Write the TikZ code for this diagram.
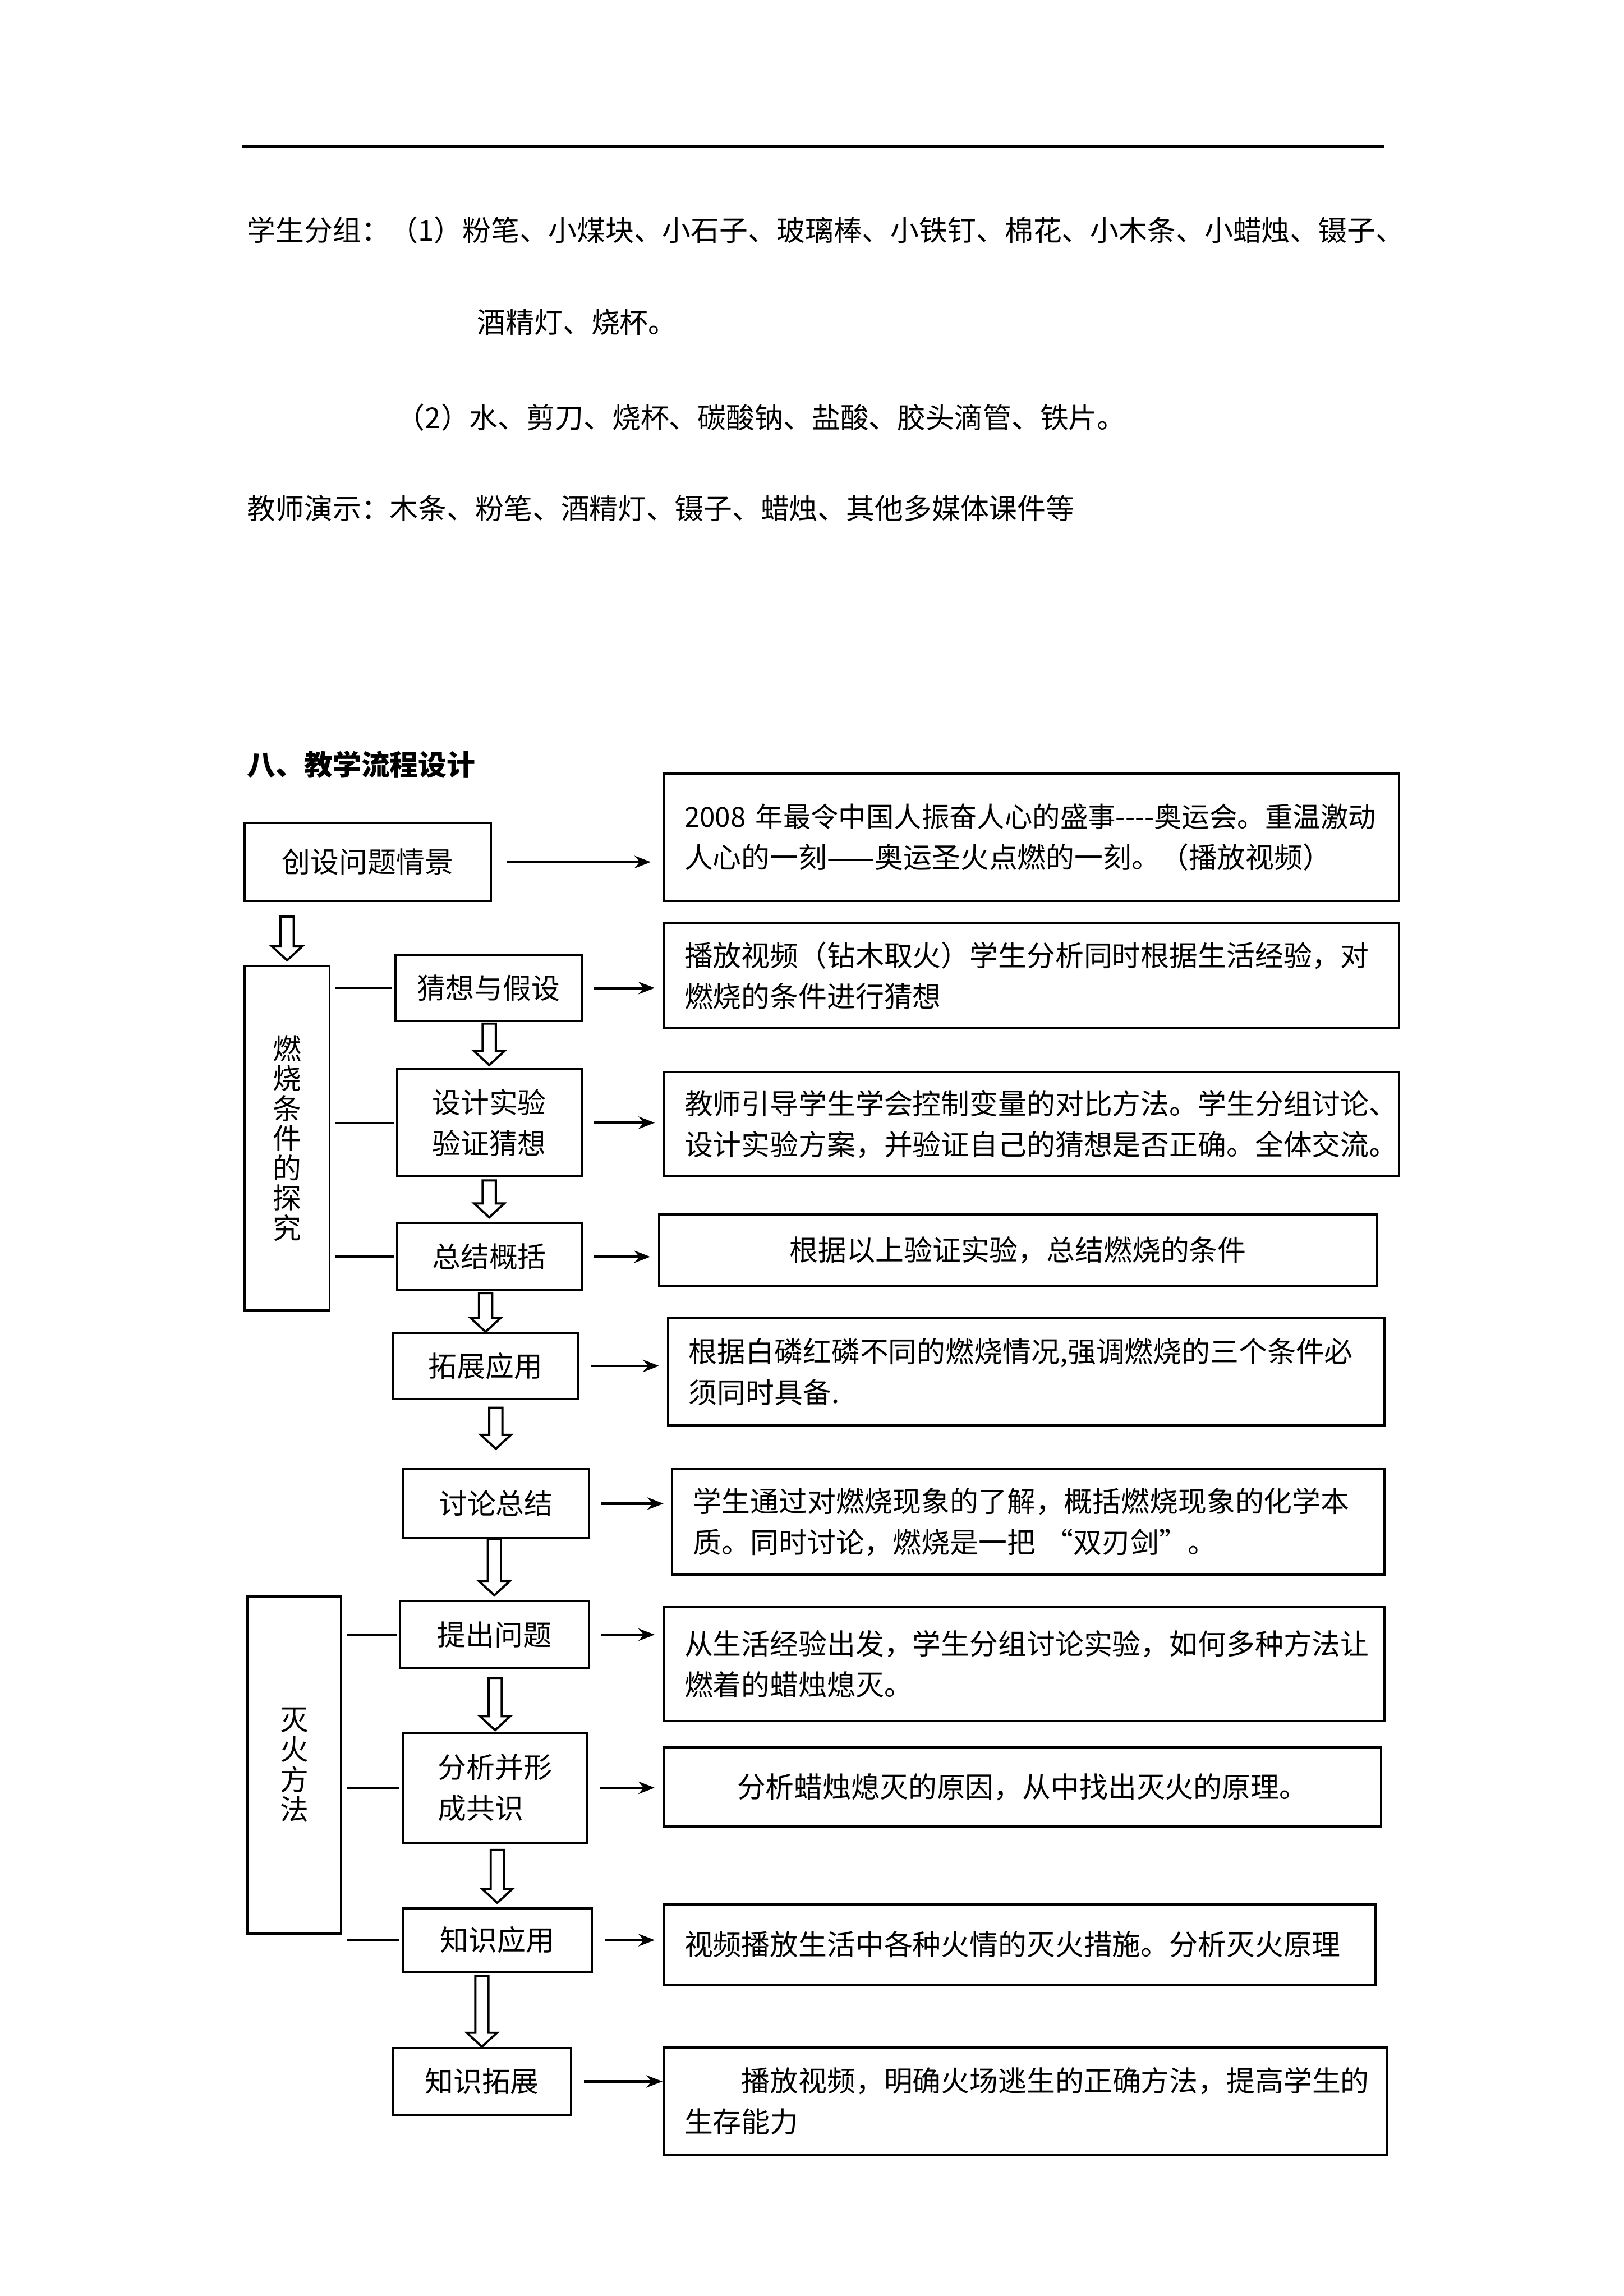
\documentclass[tikz,border=0pt]{standalone}
\usepackage{fontspec}
\setmainfont{Noto Sans CJK SC}
\usetikzlibrary{arrows.meta,calc}
\tikzset{
	plain/.style={anchor=west, inner sep=0pt},
	stepbox/.style={draw, align=center, inner sep=0pt},
	sidebox/.style={draw, align=center, inner sep=0pt, font=\fontsize{10.5pt}{11pt}\selectfont},
	infobox/.style={draw, align=left, inner xsep=2.7mm, inner ysep=0pt},
	arr/.style={-{Stealth[length=2.1mm,width=1.6mm]}, line width=1pt, shorten <=1.5mm, shorten >=1mm},
	link/.style={shorten <=0.6mm, shorten >=0.3mm}
}
\newcommand{\hollowarrow}[2]{\draw let \p1=(#1), \p2=(#2) in
	(\x2-0.85mm,\y1) -- (\x2+0.85mm,\y1) -- (\x2+0.85mm,\y2+1.8mm) -- (\x2+1.95mm,\y2+1.8mm)
	-- (\x2,\y2) -- (\x2-1.95mm,\y2+1.8mm) -- (\x2-0.85mm,\y2+1.8mm) -- cycle;}

\begin{document}
\begin{tikzpicture}[x=0.18947mm, y=-0.18947mm, line width=0.8pt,
		every node/.style={font=\fontsize{10.5pt}{15.1pt}\selectfont}]
	\useasboundingbox (0,0) rectangle (1108.4,1567.5);
	\draw[line width=1pt] (165,100) -- (945,100);
	\node[plain] (grp1) at (168,157) {学生分组：（1）粉笔、小煤块、小石子、玻璃棒、小铁钉、棉花、小木条、小蜡烛、镊子、};
	\node[plain] (grp1b) at (325,220) {酒精灯、烧杯。};
	\node[plain] (grp2) at (270,285) {（2）水、剪刀、烧杯、碳酸钠、盐酸、胶头滴管、铁片。};
	\node[plain] (demo) at (168,347) {教师演示：木条、粉笔、酒精灯、镊子、蜡烛、其他多媒体课件等};
	\node[plain, font=\fontsize{10.5pt}{15.1pt}\selectfont\bfseries] (title) at (168,522) {八、教学流程设计};

	\node[stepbox, minimum width=31.83mm, minimum height=10.04mm] (intro) at (251,588.5) {创设问题情景};
	\node[stepbox, minimum width=24.06mm, minimum height=8.53mm] (guess) at (333.5,674.5) {猜想与假设};
	\node[stepbox, minimum width=23.87mm, minimum height=13.84mm] (design) at (334,766.5) {设计实验\\验证猜想};
	\node[stepbox, minimum width=23.87mm, minimum height=8.71mm] (sum) at (334,858) {总结概括};
	\node[stepbox, minimum width=24.06mm, minimum height=8.53mm] (extend) at (331.5,932.5) {拓展应用};
	\node[stepbox, minimum width=24.06mm, minimum height=8.90mm] (discuss) at (338.5,1026.5) {讨论总结};
	\node[stepbox, minimum width=24.45mm, minimum height=8.71mm] (ask) at (337.5,1116) {提出问题};
	\node[stepbox, minimum width=23.87mm, minimum height=14.21mm, align=left] (analyse) at (338,1220.5) {分析并形\\成共识};
	\node[stepbox, minimum width=24.45mm, minimum height=8.15mm] (apply) at (339.5,1324.5) {知识应用};
	\node[stepbox, minimum width=23.12mm, minimum height=8.71mm] (widen) at (329,1421) {知识拓展};

	\node[sidebox, minimum width=10.99mm, minimum height=44.52mm] (burn) at (196,777) {燃\\烧\\条\\件\\的\\探\\究};
	\node[sidebox, minimum width=12.13mm, minimum height=43.58mm] (quench) at (201,1205) {灭\\火\\方\\法};

	\node[infobox, minimum height=16.49mm, text width=89.71mm] (olymp) at (704,571.5) {\mbox{\fontsize{10.2pt}{15.1pt}\selectfont 2008 年最令中国人振奋人心的盛事-\kern0pt-\kern0pt-\kern0pt-奥运会。重温激动}\\人心的一刻——奥运圣火点燃的一刻。（播放视频）};
	\node[infobox, minimum height=13.64mm, text width=89.71mm] (video) at (704,666) {播放视频（钻木取火）学生分析同时根据生活经验，对\\燃烧的条件进行猜想};
	\node[infobox, minimum height=13.45mm, text width=89.71mm] (method) at (704,767.5) {教师引导学生学会控制变量的对比方法。学生分组讨论、\\设计实验方案，并验证自己的猜想是否正确。全体交流。};
	\node[infobox, minimum height=9.28mm, text width=87.44mm, align=center] (cond) at (695,853.5) {根据以上验证实验，总结燃烧的条件};
	\node[infobox, minimum height=13.84mm, text width=87.25mm] (phos) at (700.5,936.5) {根据白磷红磷不同的燃烧情况,强调燃烧的三个条件必\\须同时具备.};
	\node[infobox, minimum height=13.64mm, text width=86.68mm] (nature) at (702,1039) {学生通过对燃烧现象的了解，概括燃烧现象的化学本\\质。同时讨论，燃烧是一把 “双刃剑”。};
	\node[infobox, minimum height=14.78mm, text width=87.82mm] (candle) at (699,1136) {从生活经验出发，学生分组讨论实验，如何多种方法让\\燃着的蜡烛熄灭。};
	\node[infobox, minimum height=10.23mm, text width=87.44mm, align=center] (reason) at (698,1220) {分析蜡烛熄灭的原因，从中找出灭火的原理。};
	\node[infobox, minimum height=10.42mm, text width=86.68mm] (measure) at (696,1327.5) {视频播放生活中各种火情的灭火措施。分析灭火原理};
	\node[infobox, minimum height=13.84mm, text width=88.19mm] (escape) at (700,1434.5) {\hspace*{2em}播放视频，明确火场逃生的正确方法，提高学生的\\生存能力};

	\path[arr]
	(intro.east) edge[shorten <=1.9mm, shorten >=1.5mm] (intro.east -| olymp.west)
	(guess.east) edge (guess.east -| video.west)
	(design.east) edge (design.east -| method.west)
	(sum.east) edge (sum.east -| cond.west)
	(extend.east) edge (extend.east -| phos.west)
	(discuss.east) edge (discuss.east -| nature.west)
	(ask.east) edge (ask.east -| candle.west)
	(analyse.east) edge (analyse.east -| reason.west)
	(apply.east) edge (apply.east -| measure.west)
	(widen.east) edge[shorten >=0mm] (widen.east -| escape.west)
	;
	\path[link]
	(burn.east |- guess.west) edge (guess.west)
	(burn.east |- design.west) edge (design.west)
	(burn.east |- sum.west) edge (sum.west)
	(quench.east |- ask.west) edge (ask.west)
	(quench.east |- analyse.west) edge (analyse.west)
	(quench.east |- apply.west) edge (apply.west)
	;
	\hollowarrow{[yshift=-1.9mm]intro.south}{[yshift=0.6mm]burn.north}
	\hollowarrow{[yshift=-0.2mm]guess.south}{[yshift=0.4mm]design.north}
	\hollowarrow{[yshift=-0.4mm]design.south}{[yshift=0.6mm]sum.north}
	\hollowarrow{[yshift=-0.2mm]sum.south}{extend.north}
	\hollowarrow{[yshift=-1mm]extend.south}{[yshift=2.5mm]discuss.north}
	\hollowarrow{discuss.south}{[yshift=0.6mm]ask.north}
	\hollowarrow{[yshift=-1.1mm]ask.south}{[yshift=0.2mm]analyse.north}
	\hollowarrow{[yshift=-0.8mm]analyse.south}{[yshift=0.6mm]apply.north}
	\hollowarrow{[yshift=-0.4mm]apply.south}{widen.north}
\end{tikzpicture}
\end{document}
